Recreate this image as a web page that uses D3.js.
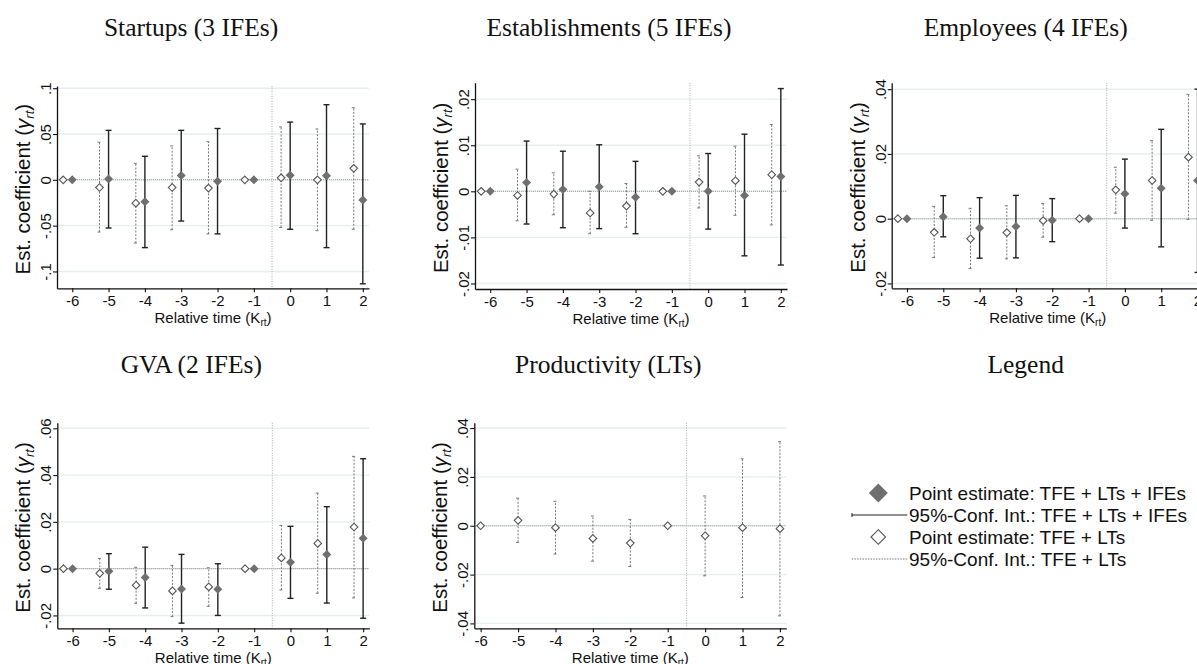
<!DOCTYPE html>
<html>
<head>
<meta charset="utf-8">
<script src="https://cdn.jsdelivr.net/npm/d3@7"></script>
<style>
  html, body { margin: 0; padding: 0; background: #fff; }
  svg { display: block; }
  .sans { font-family: "Liberation Sans", Arial, Helvetica, sans-serif; }
  .serif { font-family: "Liberation Serif", "Times New Roman", serif; }
</style>
</head>
<body>
<svg id="chart" width="1197" height="664"></svg>
<script>
// Event-study estimates by relative time (K_rt); t = -6 and t = -1 are reference periods.
const relTime = [-6, -5, -4, -3, -2, -1, 0, 1, 2];

// Startups
const startupsIfe   = [0, 0.001, -0.024, 0.0048, -0.0015, 0, 0.005, 0.0044, -0.022];
const startupsIfeLo = [null, -0.0526, -0.074, -0.045, -0.059, null, -0.054, -0.074, -0.1135];
const startupsIfeHi = [null, 0.054, 0.0257, 0.054, 0.056, null, 0.063, 0.082, 0.061];
const startupsLt    = [0, -0.0084, -0.0255, -0.0084, -0.009, 0, 0.0022, 0, 0.0125];
const startupsLtLo  = [null, -0.057, -0.069, -0.0545, -0.059, null, -0.052, -0.0555, -0.054];
const startupsLtHi  = [null, 0.041, 0.018, 0.037, 0.0416, null, 0.0577, 0.0555, 0.0787];

// Establishments
const estabIfe   = [0, 0.0019, 0.0004, 0.001, -0.0013, 0, 0, -0.0009, 0.0032];
const estabIfeLo = [null, -0.0071, -0.0079, -0.0081, -0.0092, null, -0.0082, -0.014, -0.016];
const estabIfeHi = [null, 0.0109, 0.0087, 0.0101, 0.0065, null, 0.0082, 0.0124, 0.0223];
const estabLt    = [0, -0.0009, -0.0006, -0.0047, -0.0032, 0, 0.002, 0.0023, 0.0036];
const estabLtLo  = [null, -0.0064, -0.0051, -0.0092, -0.0078, null, -0.0036, -0.0052, -0.0073];
const estabLtHi  = [null, 0.0048, 0.004, 0.0, 0.0017, null, 0.0077, 0.0098, 0.0145];

// Employees
const emplIfe   = [0, 0.0006, -0.0029, -0.0024, -0.0005, 0, 0.0077, 0.0094, 0.0118];
const emplIfeLo = [null, -0.0056, -0.0122, -0.0121, -0.0071, null, -0.0029, -0.0087, -0.0166];
const emplIfeHi = [null, 0.0071, 0.0065, 0.0072, 0.0062, null, 0.0184, 0.0276, 0.040];
const emplLt    = [0, -0.0042, -0.0062, -0.0043, -0.0006, 0, 0.0089, 0.0118, 0.019];
const emplLtLo  = [null, -0.012, -0.0154, -0.0124, -0.0057, null, 0.0017, -0.0005, -0.0002];
const emplLtHi  = [null, 0.0038, 0.0032, 0.004, 0.0047, null, 0.0159, 0.0241, 0.0384];

// Gross value added
const gvaIfe   = [0, -0.0011, -0.0038, -0.0087, -0.0088, 0, 0.0027, 0.006, 0.013];
const gvaIfeLo = [null, -0.0088, -0.0168, -0.0233, -0.02, null, -0.0127, -0.0147, -0.0212];
const gvaIfeHi = [null, 0.0064, 0.0092, 0.0061, 0.0021, null, 0.0181, 0.0265, 0.047];
const gvaLt    = [0, -0.002, -0.0071, -0.0095, -0.0078, 0, 0.0046, 0.0108, 0.0178];
const gvaLtLo  = [null, -0.0084, -0.0148, -0.0205, -0.0161, null, -0.0091, -0.0105, -0.0125];
const gvaLtHi  = [null, 0.0044, 0.0006, 0.0014, 0.0004, null, 0.0185, 0.0323, 0.048];

// Productivity (linear trends only)
const prodLt   = [0, 0.0022, -0.0008, -0.0052, -0.0071, 0, -0.0041, -0.0008, -0.0012];
const prodLtLo = [null, -0.0068, -0.0116, -0.0145, -0.0167, null, -0.0205, -0.0294, -0.0369];
const prodLtHi = [null, 0.0113, 0.01, 0.004, 0.0026, null, 0.0122, 0.0274, 0.0344];

// Y-axis tick values per panel
const startupsTicks = [-0.1, -0.05, 0, 0.05, 0.1];
const estabTicks    = [-0.02, -0.01, 0, 0.01, 0.02];
const emplTicks     = [-0.02, 0, 0.02, 0.04];
const gvaTicks      = [-0.02, 0, 0.02, 0.04, 0.06];
const prodTicks     = [-0.04, -0.02, 0, 0.02, 0.04];

const panelTitles = ["Startups (3 IFEs)", "Establishments (5 IFEs)", "Employees (4 IFEs)", "GVA (2 IFEs)", "Productivity (LTs)"];
const legendLabels = [
  "Point estimate: TFE + LTs + IFEs",
  "95%-Conf. Int.: TFE + LTs + IFEs",
  "Point estimate: TFE + LTs",
  "95%-Conf. Int.: TFE + LTs"
];

const pack = (est, lo, hi) => relTime.map((t, i) => ({ t, est: est[i], lo: lo[i], hi: hi[i] }));

const panels = [
  { title: panelTitles[0], ife: pack(startupsIfe, startupsIfeLo, startupsIfeHi), lt: pack(startupsLt, startupsLtLo, startupsLtHi),
    ticks: startupsTicks, left: 57, top: 86, bottom: 288.3, yDom: [-0.1184, 0.1024], xDom: [-6.42, 2.17], titleY: 36 },
  { title: panelTitles[1], ife: pack(estabIfe, estabIfeLo, estabIfeHi), lt: pack(estabLt, estabLtLo, estabLtHi),
    ticks: estabTicks, left: 475, top: 82.7, bottom: 289, yDom: [-0.0212, 0.02357], xDom: [-6.42, 2.17], titleY: 36 },
  { title: panelTitles[2], ife: pack(emplIfe, emplIfeLo, emplIfeHi), lt: pack(emplLt, emplLtLo, emplLtHi),
    ticks: emplTicks, left: 891.7, top: 82.7, bottom: 288.3, yDom: [-0.0215, 0.042], xDom: [-6.42, 2.17], titleY: 36 },
  { title: panelTitles[3], ife: pack(gvaIfe, gvaIfeLo, gvaIfeHi), lt: pack(gvaLt, gvaLtLo, gvaLtHi),
    ticks: gvaTicks, left: 57.3, top: 422.7, bottom: 628.3, yDom: [-0.0255, 0.0624], xDom: [-6.42, 2.17], titleY: 373 },
  { title: panelTitles[4], ife: null, lt: pack(prodLt, prodLtLo, prodLtHi),
    ticks: prodTicks, left: 474.3, top: 422.7, bottom: 628.3, yDom: [-0.042, 0.0422], xDom: [-6.17, 2.17], titleY: 373 }
];

const plotW = 312;
const svg = d3.select("#chart");

const stataFmt = v => v === 0 ? "0" : String(+v.toFixed(4)).replace("0.", ".");
const diamond = (r) => `M0,${-r}L${r},0L0,${r}L${-r},0Z`;

const FILL_GRAY = "#6f6f6f";
const CI_DARK = "#222";
const CI_LT = "#777";

panels.forEach(p => {
  const x = d3.scaleLinear().domain(p.xDom).range([p.left, p.left + plotW]);
  const y = d3.scaleLinear().domain(p.yDom).range([p.bottom, p.top]);
  const g = svg.append("g");

  // light horizontal grid
  g.append("g").selectAll("line").data(p.ticks).join("line")
    .attr("x1", p.left).attr("x2", p.left + plotW)
    .attr("y1", d => y(d)).attr("y2", d => y(d))
    .attr("stroke", "#e6eeef").attr("stroke-width", 1.4);

  // zero line and treatment boundary
  g.append("line")
    .attr("x1", p.left).attr("x2", p.left + plotW)
    .attr("y1", y(0)).attr("y2", y(0))
    .attr("stroke", "#9a9a9a").attr("stroke-width", 1.1).attr("stroke-dasharray", "1,1");
  g.append("line")
    .attr("x1", x(-0.5)).attr("x2", x(-0.5))
    .attr("y1", p.top).attr("y2", p.bottom)
    .attr("stroke", "#aaa").attr("stroke-width", 1).attr("stroke-dasharray", "1,1.5");

  const ltShift = p.ife ? -0.25 : 0;

  // dashed CIs (TFE + LTs)
  const ltCI = p.lt.filter(d => d.lo !== null);
  const gl = g.append("g").attr("stroke", CI_LT).attr("stroke-width", 1).attr("fill", "none");
  gl.selectAll("line.v").data(ltCI).join("line").attr("class", "v")
    .attr("x1", d => x(d.t + ltShift)).attr("x2", d => x(d.t + ltShift))
    .attr("y1", d => y(d.lo)).attr("y2", d => y(d.hi))
    .attr("stroke-dasharray", "2,1.5");
  ["lo", "hi"].forEach(k => {
    gl.selectAll("line." + k).data(ltCI).join("line").attr("class", k)
      .attr("x1", d => x(d.t + ltShift) - 2).attr("x2", d => x(d.t + ltShift) + 1)
      .attr("y1", d => y(d[k])).attr("y2", d => y(d[k]));
  });

  // solid CIs (TFE + LTs + IFEs)
  if (p.ife) {
    const ifeCI = p.ife.filter(d => d.lo !== null);
    const gs = g.append("g").attr("stroke", CI_DARK).attr("stroke-width", 1.4);
    gs.selectAll("line.v").data(ifeCI).join("line").attr("class", "v")
      .attr("x1", d => x(d.t)).attr("x2", d => x(d.t))
      .attr("y1", d => y(d.lo)).attr("y2", d => y(d.hi));
    ["lo", "hi"].forEach(k => {
      gs.selectAll("line." + k).data(ifeCI).join("line").attr("class", k)
        .attr("x1", d => x(d.t) - 3).attr("x2", d => x(d.t) + 3)
        .attr("y1", d => y(d[k])).attr("y2", d => y(d[k]));
    });
  }

  // open diamonds
  g.append("g").selectAll("path").data(p.lt).join("path")
    .attr("transform", d => `translate(${x(d.t + ltShift)},${y(d.est)})`)
    .attr("d", diamond(3.8))
    .attr("fill", "#fff").attr("stroke", "#555").attr("stroke-width", 1.1);

  // filled diamonds
  if (p.ife) {
    g.append("g").selectAll("path").data(p.ife).join("path")
      .attr("transform", d => `translate(${x(d.t)},${y(d.est)})`)
      .attr("d", diamond(4.5))
      .attr("fill", FILL_GRAY);
  }

  // axes
  const ay = g.append("g").attr("class", "sans")
    .attr("transform", `translate(${p.left},0)`)
    .call(d3.axisLeft(y).tickValues(p.ticks).tickFormat(stataFmt).tickSize(4).tickSizeOuter(0));
  ay.select(".domain").attr("stroke", "#111").attr("stroke-width", 1.3);
  ay.selectAll(".tick line").attr("stroke", "#111").attr("stroke-width", 1.1);
  ay.selectAll(".tick text")
    .attr("transform", "rotate(-90)")
    .attr("x", 0).attr("y", -6).attr("dy", 0)
    .attr("text-anchor", "middle")
    .attr("font-size", 15).attr("fill", "#111")
    .attr("font-family", "Liberation Sans, Arial, sans-serif");

  const ax = g.append("g")
    .attr("transform", `translate(0,${p.bottom})`)
    .call(d3.axisBottom(x).tickValues(relTime).tickFormat(d => String(d)).tickSize(4).tickSizeOuter(0));
  ax.select(".domain").attr("stroke", "#111").attr("stroke-width", 1.3);
  ax.selectAll(".tick line").attr("stroke", "#111").attr("stroke-width", 1.1);
  ax.selectAll(".tick text")
    .attr("font-size", 15).attr("fill", "#111")
    .attr("font-family", "Liberation Sans, Arial, sans-serif");

  // axis titles
  const xt = g.append("text").attr("class", "sans")
    .attr("x", p.left + plotW / 2).attr("y", p.bottom + 34.5)
    .attr("text-anchor", "middle").attr("font-size", 15).attr("fill", "#111");
  xt.append("tspan").text("Relative time (K");
  xt.append("tspan").attr("font-size", 10).attr("dy", 3).text("rt");
  xt.append("tspan").attr("dy", -3).text(")");

  const yt = g.append("text").attr("class", "sans")
    .attr("transform", `translate(${p.left - 27},${(p.top + p.bottom) / 2 + 2}) rotate(-90)`)
    .attr("text-anchor", "middle").attr("font-size", 20.5).attr("fill", "#111");
  yt.append("tspan").text("Est. coefficient (");
  yt.append("tspan").attr("font-style", "italic").text("γ");
  yt.append("tspan").attr("font-style", "italic").attr("font-size", 13).attr("dy", 4).text("rt");
  yt.append("tspan").attr("dy", -4).text(")");

  // panel title
  svg.append("text").attr("class", "serif")
    .attr("x", p.left + 134).attr("y", p.titleY)
    .attr("text-anchor", "middle").attr("font-size", 25.5).attr("fill", "#111")
    .text(p.title);
});

// legend panel
const lg = svg.append("g");
lg.append("text").attr("class", "serif")
  .attr("x", 891.7 + 134).attr("y", 373)
  .attr("text-anchor", "middle").attr("font-size", 25.5).attr("fill", "#111")
  .text("Legend");

const legendRows = [493, 515, 537, 559];
const textX = 909;
lg.append("path").attr("transform", `translate(878.3,${legendRows[0]})`).attr("d", diamond(9.5)).attr("fill", FILL_GRAY);
lg.append("line").attr("x1", 851.7).attr("x2", 907.3).attr("y1", legendRows[1]).attr("y2", legendRows[1])
  .attr("stroke", CI_DARK).attr("stroke-width", 1.2);
lg.append("line").attr("x1", 852).attr("x2", 852).attr("y1", legendRows[1] - 2).attr("y2", legendRows[1] + 2)
  .attr("stroke", CI_DARK).attr("stroke-width", 1);
lg.append("path").attr("transform", `translate(878.3,${legendRows[2]})`).attr("d", diamond(7.3))
  .attr("fill", "#fff").attr("stroke", "#555").attr("stroke-width", 1.1);
lg.append("line").attr("x1", 851.7).attr("x2", 907.3).attr("y1", legendRows[3]).attr("y2", legendRows[3])
  .attr("stroke", CI_LT).attr("stroke-width", 1).attr("stroke-dasharray", "1.5,1.2");

lg.selectAll("text.item").data(legendLabels).join("text").attr("class", "item sans")
  .attr("x", textX).attr("y", (d, i) => legendRows[i] + 6.8)
  .attr("font-size", 19).attr("fill", "#111")
  .text(d => d);
</script>
</body>
</html>
